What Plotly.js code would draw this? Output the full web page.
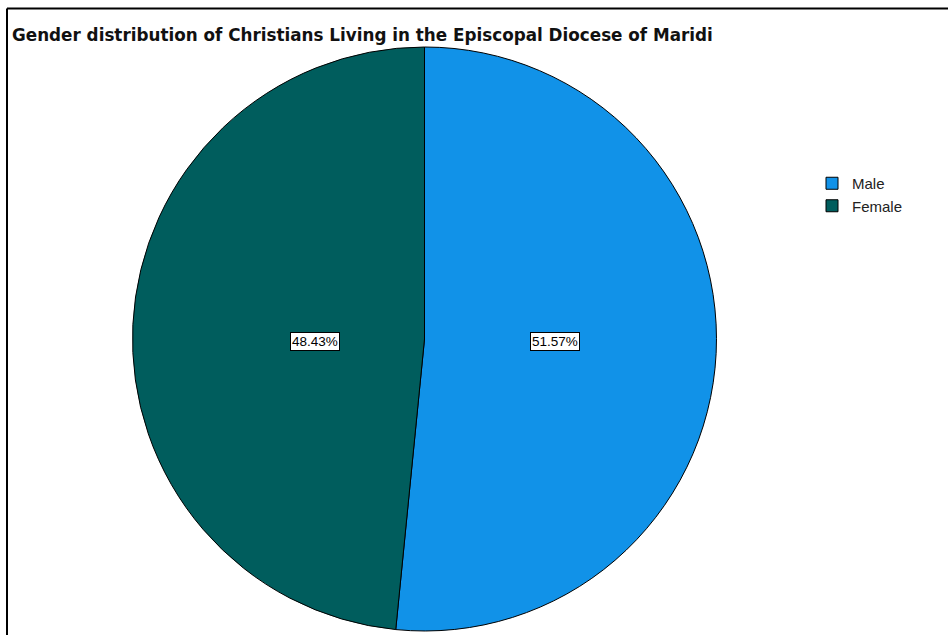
<!DOCTYPE html>
<html>
<head>
<meta charset="utf-8">
<script src="https://cdn.plot.ly/plotly-3.0.1.min.js"></script>
<style>html,body{margin:0;padding:0;background:#fff;}#chart{width:948px;height:635px;}</style>
</head>
<body>
<div id="chart"></div>
<script>
const categories = ["Male", "Female"];
const percents = [51.57, 48.43];
const sliceColors = ["#1192e8", "#005d5d"];
const chartTitle = "Gender distribution of Christians Living in the Episcopal Diocese of Maridi";

const W = 948, H = 635;
const cx = 424.5, cy = 339, R = 292;

const total = percents.reduce((a, b) => a + b, 0);
const labelTexts = percents.map(v => (v / total * 100).toFixed(2) + "%");

// label annotations placed toward slice mid-angles (clockwise from 12 o'clock)
const annotations = [];
let start = 0;
percents.forEach((v, i) => {
  const sweep = v / total * 360;
  const mid = (start + sweep / 2) * Math.PI / 180;
  start += sweep;
  const f = 0.453;
  const px = cx - 2 + f * R * Math.sin(mid);
  const py = cy + 2;
  annotations.push({
    x: px / W, y: 1 - py / H, xref: "paper", yref: "paper",
    text: labelTexts[i], showarrow: false,
    font: {family: "Liberation Sans, Arial, sans-serif", size: 13.5, color: "#000"},
    bgcolor: "#ffffff", bordercolor: "#000000", borderwidth: 1, borderpad: 1
  });
});

const trace = {
  type: "pie",
  labels: categories,
  values: percents,
  sort: false,
  direction: "clockwise",
  rotation: 0,
  textinfo: "none",
  hoverinfo: "label+percent",
  marker: {colors: sliceColors, line: {color: "#000000", width: 1}},
  domain: {x: [(cx - R) / W, (cx + R) / W], y: [1 - (cy + R) / H, 1 - (cy - R) / H]}
};

const layout = {
  width: W, height: H,
  margin: {l: 0, r: 0, t: 0, b: 0},
  paper_bgcolor: "#ffffff",
  title: {
    text: "<b>" + chartTitle + "</b>",
    x: 12 / W, xanchor: "left", xref: "container",
    y: 1 - 35 / H, yanchor: "middle", yref: "container",
    font: {family: "DejaVu Sans, Verdana, sans-serif", size: 16.8, color: "#111"}
  },
  showlegend: true,
  legend: {
    x: 812 / W, y: 1 - 167 / H, xanchor: "left", yanchor: "top",
    font: {family: "Liberation Sans, Arial, sans-serif", size: 15, color: "#222"},
    bgcolor: "rgba(0,0,0,0)", tracegroupgap: 0, itemwidth: 30
  },
  annotations: annotations,
  shapes: [
    {type: "line", xref: "paper", yref: "paper", x0: 7 / W, x1: 1.01, y0: 1 - 8.5 / H, y1: 1 - 8.5 / H, line: {color: "#000", width: 2}},
    {type: "line", xref: "paper", yref: "paper", x0: 7 / W, x1: 7 / W, y0: 1 - 8.5 / H, y1: -0.01, line: {color: "#000", width: 2}}
  ]
};

Plotly.newPlot("chart", [trace], layout, {displayModeBar: false, staticPlot: true});
</script>
</body>
</html>
